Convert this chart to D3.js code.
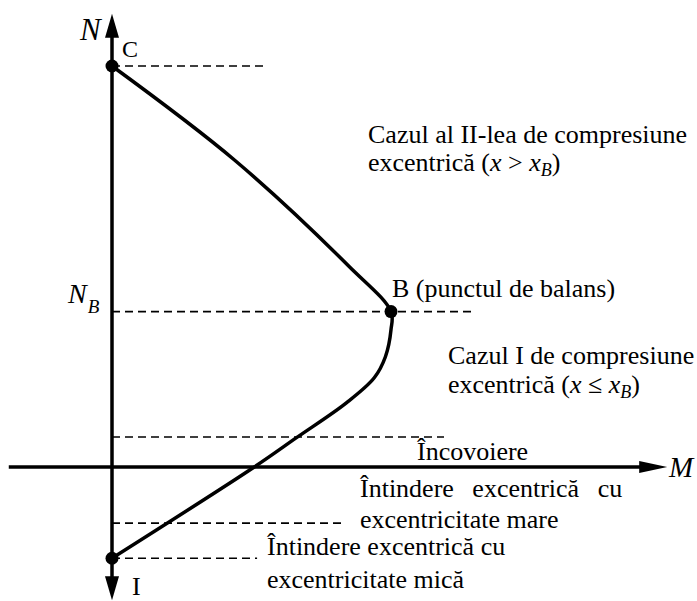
<!DOCTYPE html>
<html>
<head>
<meta charset="utf-8">
<script src="https://cdn.jsdelivr.net/npm/d3@7"></script>
<style>
  body { margin: 0; background: #fff; }
  text { font-family: "Liberation Serif", "Times New Roman", serif; fill: #000; }
</style>
</head>
<body>
<div id="chart"></div>
<script>
// interaction curve (M, N), from C down through B to I
const curveM = [0, 44, 85, 100, 100, 98, 94, 84, 66, 51, 0];
const curveN = [400, 306, 200, 155, 137, 110, 89, 64, 29, 0, -91];

// marked points
const pointNames = ["C", "B", "I"];
const pointM = [0, 100, 0];
const pointN = [400, 155, -91];

// dashed guide lines: level N and where they stop along M
const dashN = [400, 155, 30, -56, -91];
const dashEnd = [55, 130, 119, 83, 52];

// axis extents (arrow tips)
const mExtent = [-37, 199];
const nExtent = [-133, 452];

const width = 697, height = 601;

const svg = d3.select("#chart").append("svg")
  .attr("width", width)
  .attr("height", height);

const x = d3.scaleLinear().domain([0, 100]).range([112, 391]);
const y = d3.scaleLinear().domain([0, 400]).range([467, 66]);

// dashed guides
svg.append("g").selectAll("line")
  .data(dashN)
  .join("line")
  .attr("x1", x(0))
  .attr("x2", (d, i) => x(dashEnd[i]))
  .attr("y1", d => y(d))
  .attr("y2", d => y(d))
  .attr("stroke", "#000")
  .attr("stroke-width", 1.6)
  .attr("stroke-dasharray", "8,5");

// axes
const arrowLen = 24, arrowHalf = 7;
svg.append("line")
  .attr("x1", x(0)).attr("x2", x(0))
  .attr("y1", y(nExtent[1]) + arrowLen - 2)
  .attr("y2", y(nExtent[0]) - arrowLen + 2)
  .attr("stroke", "#000").attr("stroke-width", 3.5);
svg.append("line")
  .attr("x1", x(mExtent[0])).attr("x2", x(mExtent[1]) - arrowLen + 2)
  .attr("y1", y(0)).attr("y2", y(0))
  .attr("stroke", "#000").attr("stroke-width", 3.5);

// arrowheads
const ax = x(0), ay = y(0);
const topTip = y(nExtent[1]), botTip = y(nExtent[0]), rightTip = x(mExtent[1]);
svg.append("path")
  .attr("d", `M${ax},${topTip} L${ax + arrowHalf},${topTip + arrowLen} L${ax - arrowHalf},${topTip + arrowLen} Z`);
svg.append("path")
  .attr("d", `M${ax},${botTip} L${ax + arrowHalf},${botTip - arrowLen} L${ax - arrowHalf},${botTip - arrowLen} Z`);
svg.append("path")
  .attr("d", `M${rightTip},${ay} L${rightTip - arrowLen - 4},${ay - arrowHalf + 1} L${rightTip - arrowLen - 4},${ay + arrowHalf - 1} Z`);

// the curve
const line = d3.line()
  .x((d, i) => x(curveM[i]))
  .y(d => y(d))
  .curve(d3.curveCatmullRom.alpha(0.5));

svg.append("path")
  .datum(curveN)
  .attr("d", line)
  .attr("fill", "none")
  .attr("stroke", "#000")
  .attr("stroke-width", 3.5)
  .attr("stroke-linejoin", "round");

// points
svg.append("g").selectAll("circle")
  .data(pointNames)
  .join("circle")
  .attr("cx", (d, i) => x(pointM[i]))
  .attr("cy", (d, i) => y(pointN[i]))
  .attr("r", 6.5)
  .attr("fill", "#000");

// point labels
svg.append("text").attr("x", x(0) + 10).attr("y", y(400) - 9)
  .style("font-size", "24px").text("C");
svg.append("text").attr("x", x(0) + 20).attr("y", y(-91) + 37)
  .style("font-size", "26px").text("I");
svg.append("text").attr("x", x(100) + 1).attr("y", y(155) - 15)
  .style("font-size", "26px").text("B (punctul de balans)");

// axis labels
svg.append("text").attr("x", 80).attr("y", 40)
  .style("font-size", "31px").style("font-style", "italic").text("N");
svg.append("text").attr("x", 669).attr("y", 477)
  .style("font-size", "29px").style("font-style", "italic").text("M");

const nb = svg.append("text").attr("x", 68).attr("y", 303)
  .style("font-size", "28px").style("font-style", "italic");
nb.append("tspan").text("N");
nb.append("tspan").attr("dy", 10).attr("dx", 1).style("font-size", "19px").text("B");

// region annotations
function mathLine(g, xp, yp, before, op) {
  const t = g.append("text").attr("x", xp).attr("y", yp).style("font-size", "26px");
  t.append("tspan").text(before + " (");
  t.append("tspan").style("font-style", "italic").text("x");
  t.append("tspan").text(" " + op + " ");
  t.append("tspan").style("font-style", "italic").text("x");
  t.append("tspan").attr("dy", 5).style("font-size", "18px").style("font-style", "italic").text("B");
  t.append("tspan").attr("dy", -5).text(")");
}

svg.append("text").attr("x", 368).attr("y", 143)
  .style("font-size", "26px").text("Cazul al II-lea de compresiune");
mathLine(svg, 368, 171, "excentrică", ">");

svg.append("text").attr("x", 448).attr("y", 364)
  .style("font-size", "26px").text("Cazul I de compresiune");
mathLine(svg, 448, 393, "excentrică", "≤");

svg.append("text").attr("x", 417).attr("y", 460)
  .style("font-size", "26px").text("Încovoiere");

svg.append("text").attr("x", 360).attr("y", 497)
  .style("font-size", "26px").style("word-spacing", "12px").text("Întindere excentrică cu");
svg.append("text").attr("x", 360).attr("y", 528)
  .style("font-size", "26px").text("excentricitate mare");

svg.append("text").attr("x", 267).attr("y", 555)
  .style("font-size", "26px").text("Întindere excentrică cu");
svg.append("text").attr("x", 267).attr("y", 588)
  .style("font-size", "26px").text("excentricitate mică");
</script>
</body>
</html>
